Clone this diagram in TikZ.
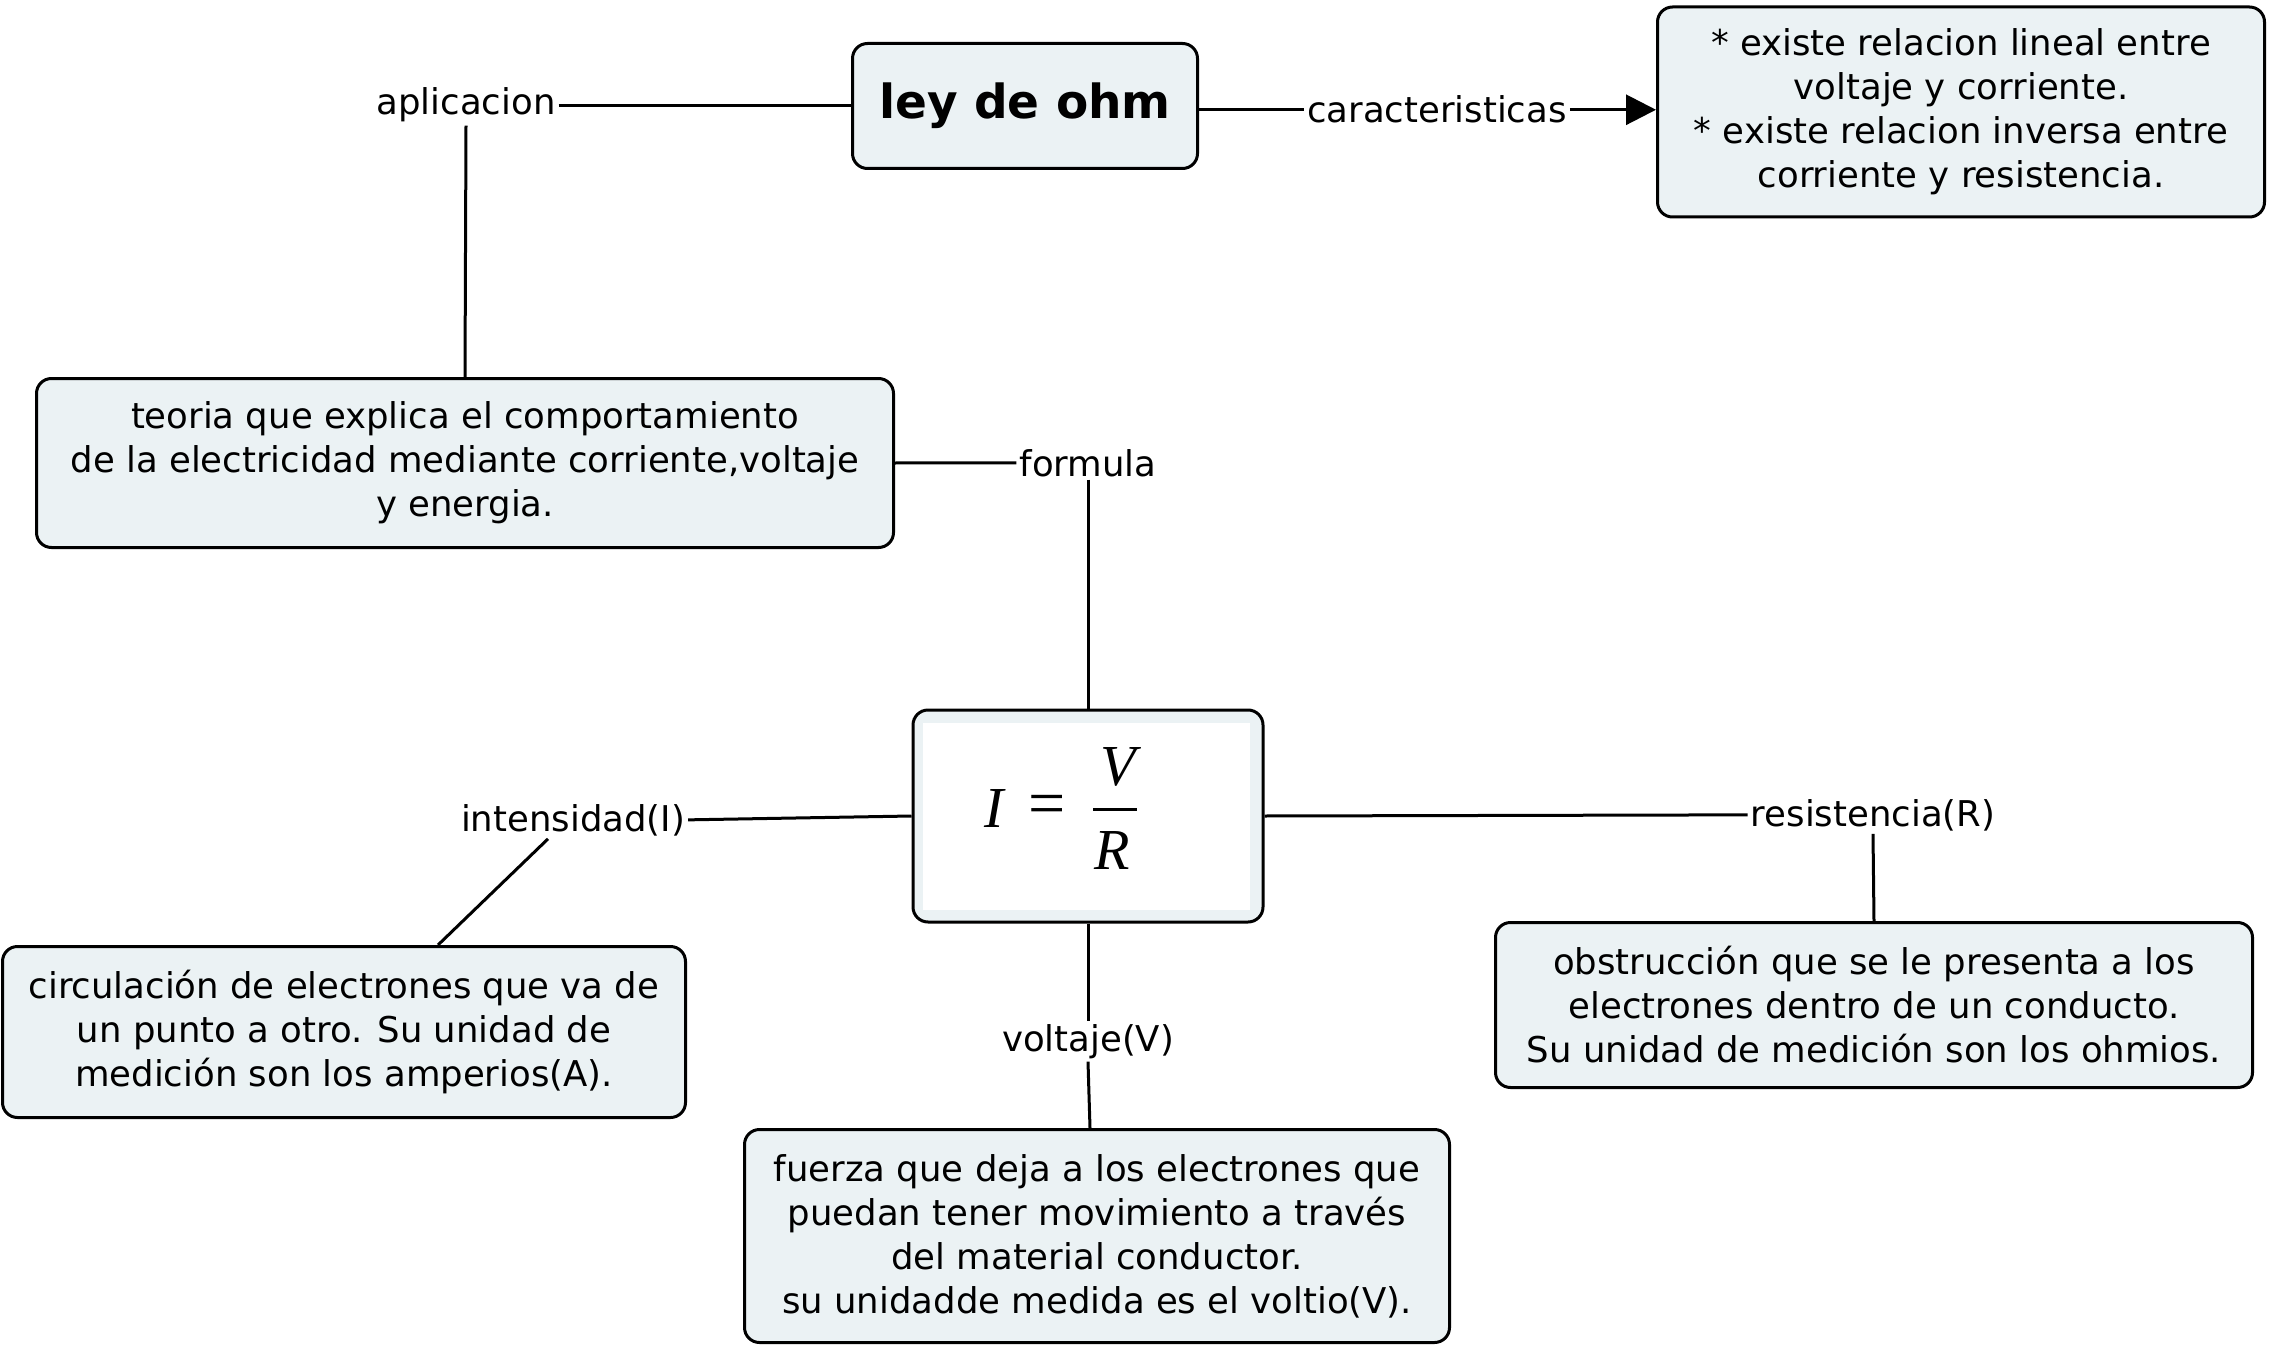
\documentclass[tikz,border=0pt]{standalone}
\usepackage{fontspec}
\setmainfont{DejaVu Sans}
\newfontfamily\tms{Liberation Serif}
\usetikzlibrary{arrows.meta}
\definecolor{boxfill}{RGB}{235,242,244}
\begin{document}
\begin{tikzpicture}[x=1pt,y=-1pt,
  box/.style={draw=black,line width=3pt,rounded corners=15pt,fill=boxfill,align=center,inner sep=0pt,font=\fontsize{35.5}{44}\selectfont},
  lbl/.style={inner sep=3pt,anchor=base,font=\fontsize{35.5}{44}\selectfont},
  fml/.style={inner sep=0pt,font=\fontsize{58}{62}\selectfont\tms\itshape},
  conn/.style={draw=black,line width=3pt}]
\useasboundingbox (0,0) rectangle (2273,1348);

% boxes
\node[box,minimum width=345pt,minimum height=125pt,font=\fontsize{47}{52}\selectfont\bfseries] (ley) at (1025,106) {ley de ohm};
\node[box,minimum width=607pt,minimum height=210pt] (cbox) at (1961,112)
  {* existe relacion lineal entre\\voltaje y corriente.\\* existe relacion inversa entre\\corriente y resistencia.};
\node[box,minimum width=857pt,minimum height=169pt] (teoria) at (465,463)
  {teoria que explica el comportamiento\\de la electricidad mediante corriente,voltaje\\y energia.};
\node[box,minimum width=350pt,minimum height=212pt] (fbox) at (1088,816) {};
\node[fill=white,minimum width=327pt,minimum height=187pt,inner sep=0pt] (fwhite) at (1086.5,816.5) {};
% formula I = V/R
\node[fml] (fI) at (994,809) {I};
\node[fml,font=\fontsize{66}{70}\selectfont\tms] (feq) at (1047,810) {=};
\node[fml] (fV) at (1118,767) {V};
\node[fill=black,minimum width=44pt,minimum height=3pt,inner sep=0pt] (fbar) at (1115,809) {};
\node[fml] (fR) at (1112,851) {R};
\node[box,minimum width=683pt,minimum height=171pt] (circ) at (344,1032)
  {circulación de electrones que va de\\un punto a otro. Su unidad de\\medición son los amperios(A).};
\node[box,minimum width=705pt,minimum height=213pt] (fuerza) at (1097,1236)
  {fuerza que deja a los electrones que\\puedan tener movimiento a través\\del material conductor.\\su unidadde medida es el voltio(V).};
\node[box,minimum width=757pt,minimum height=165pt] (obst) at (1874,1005)
  {obstrucción que se le presenta a los\\electrones dentro de un conducto.\\Su unidad de medición son los ohmios.};

% labels
\node[lbl] (aplic) at (466,115) {aplicacion};
\node[lbl] (caracl) at (1437,123) {caracteristicas};
\node[lbl] (forml) at (1088,476) {formula};
\node[lbl] (intens) at (573,831) {intensidad(I)};
\node[lbl] (voltl) at (1088,1051) {voltaje(V)};
\node[lbl] (resl) at (1873,826) {resistencia(R)};

% connectors
\draw[conn] (aplic.east) -- (aplic.east -| ley.west);
\draw[conn] (aplic.south) -- (teoria.north);
\draw[conn] (ley.east |- caracl.west) -- (caracl.west);
\draw[conn,-{Triangle[length=30pt,width=30pt]}] (caracl.east) -- (caracl.east -| cbox.west);
\draw[conn] (teoria.east) -- (forml.west);
\draw[conn] (forml.south) -- (fbox.north);
\draw[conn] (intens.east) -- (fbox.west);
\draw[conn] ([xshift=-25pt]intens.south) -- ([xshift=94pt]circ.north);
\draw[conn] (fbox.south) -- (voltl.north);
\draw[conn] (voltl.south) -- ([xshift=-7pt]fuerza.north);
\draw[conn] (fbox.east) -- (resl.west);
\draw[conn] (resl.south) -- (obst.north);
\end{tikzpicture}
\end{document}
